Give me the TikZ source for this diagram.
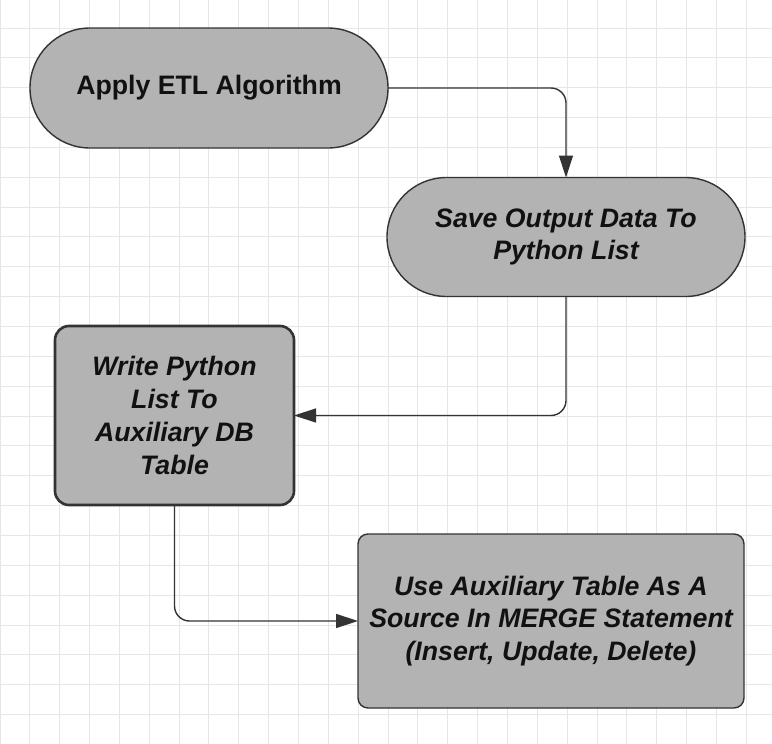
\documentclass[tikz,border=0pt]{standalone}
\usepackage{fontspec}
\setmainfont{Liberation Sans}
\usetikzlibrary{shapes.misc,arrows.meta}
\definecolor{gridc}{HTML}{E6E6E6}
\definecolor{boxfill}{HTML}{B3B3B3}
\definecolor{edgec}{HTML}{333333}
\definecolor{txtc}{HTML}{111111}
\begin{document}
\begin{tikzpicture}[x=1pt,y=-1pt,
  gridline/.style={draw=gridc,line width=1pt},
  base/.style={fill=boxfill,draw=edgec,line width=1.4pt,inner sep=0pt,outer sep=0pt,
    text=txtc,align=center,font=\fontsize{26.7}{32.7}\selectfont\bfseries\itshape},
  stadium/.style={base,rounded rectangle},
  roundbox/.style={base,rectangle},
  conn/.style={draw=edgec,line width=1.4pt,rounded corners=15pt,
    -{Triangle[length=22pt,width=14pt]}}
]
\useasboundingbox (0,0) rectangle (772,744);
\fill[white] (0,0) rectangle (772,744);
\foreach \i in {0,...,25} \draw[gridline] (\i*29.85,0) -- (\i*29.85,744);
\foreach \k in {-1,...,24} \draw[gridline] (0,28+\k*29.85) -- (772,28+\k*29.85);

\node[stadium,minimum width=358pt,minimum height=120pt,font=\fontsize{26.7}{32.7}\selectfont\bfseries]
  (etl) at (209,88) {Apply ETL Algorithm};
\node[stadium,minimum width=358pt,minimum height=119pt]
  (save) at (566,237) {Save Output Data To\\Python List};
\node[roundbox,minimum width=239pt,minimum height=179pt,rounded corners=14pt,line width=2.6pt]
  (write) at (174.5,415.5) {Write Python\\List To\\Auxiliary DB\\Table};
\node[roundbox,minimum width=386pt,minimum height=174pt,rounded corners=10pt]
  (merge) at (551,621) {Use Auxiliary Table As A\\Source In MERGE Statement\\(Insert, Update, Delete)};

\draw[conn] (etl.east) -| (save.north);
\draw[conn] (save.south) |- (write.east);
\draw[conn] (write.south) |- (merge.west);
\end{tikzpicture}
\end{document}
